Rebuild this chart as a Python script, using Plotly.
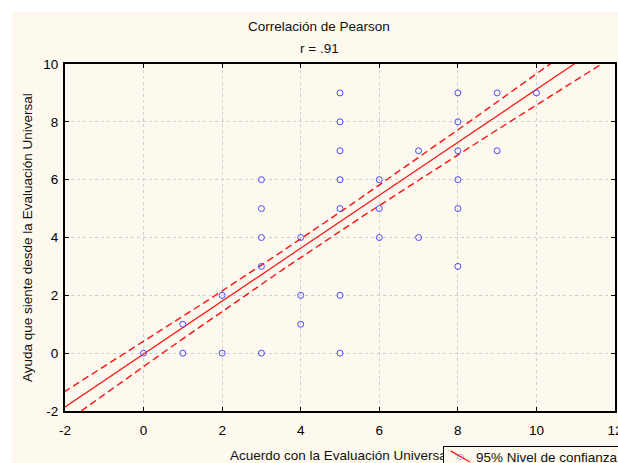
import numpy as np
import plotly.graph_objects as go

# Data points
x_vals = [0, 1, 1, 2, 2, 3, 3, 3, 3, 3, 4, 4, 4, 5, 5, 5, 5, 5, 5, 5,
          6, 6, 6, 7, 7, 8, 8, 8, 8, 8, 8, 9, 9, 10]
y_vals = [0, 1, 0, 2, 0, 6, 5, 4, 3, 0, 4, 2, 1, 9, 8, 7, 6, 5, 2, 0,
          6, 5, 4, 7, 4, 9, 8, 7, 6, 5, 3, 9, 7, 9]

# Regression line and 95% band parameters
fit_slope = 0.915
fit_intercept = -0.03
band_center = 4.0
band_min_halfwidth = 0.32
band_spread = 20.0

x_ticks = [-2, 0, 2, 4, 6, 8, 10, 12]
y_ticks = [-2, 0, 2, 4, 6, 8, 10]
x_tick_text = ["-2", "0", "2", "4", "6", "8", "10", "12"]
y_tick_text = ["-2", "0", "2", "4", "6", "8", "10"]

title_1 = "Correlación de Pearson"
title_2 = "r = .91"
x_title = "Acuerdo con la Evaluación Universal"
y_title = "Ayuda que siente desde la Evaluación Universal"
legend_label = "95% Nivel de confianza"

CREAM = "#FDF9EE"
FONT = "Liberation Sans, Arial, sans-serif"
RED = "#FF1010"
BLUE = "#4A4AFF"
FS = 13.5

# layout geometry (pixels)
W, H = 618, 463
ML, MR, MT, MB = 65, 3, 64, 52
PW, PH = W - ML - MR, H - MT - MB


def px_x(px):
    return (px - ML) / PW


def px_y(py):
    return (H - MB - py) / PH


xs = np.linspace(-2.5, 12.5, 301)
fit = fit_intercept + fit_slope * xs
hw = band_min_halfwidth * np.sqrt(1 + (xs - band_center) ** 2 / band_spread)

fig = go.Figure()
fig.add_trace(go.Scatter(x=xs, y=fit + hw, mode="lines", showlegend=False,
                         line=dict(color=RED, width=1.4, dash="7px,4px"),
                         hoverinfo="skip"))
fig.add_trace(go.Scatter(x=xs, y=fit - hw, mode="lines", showlegend=False,
                         line=dict(color=RED, width=1.4, dash="7px,4px"),
                         hoverinfo="skip"))
fig.add_trace(go.Scatter(x=xs, y=fit, mode="lines", showlegend=False,
                         line=dict(color=RED, width=1.2),
                         hoverinfo="skip"))
fig.add_trace(go.Scatter(x=x_vals, y=y_vals, mode="markers", showlegend=False,
                         name=legend_label,
                         marker=dict(symbol="circle-open", size=6,
                                     color=BLUE, line=dict(width=1))))

axis_common = dict(
    showgrid=True, gridcolor="#CFCFCF", griddash="dot", gridwidth=1,
    zeroline=False, showline=True, linecolor="#000000", linewidth=2,
    mirror="ticks", ticks="inside", ticklen=4, tickcolor="#000000",
    tickfont=dict(family=FONT, size=FS, color="#000000"),
    ticklabeloverflow="allow", automargin=False,
)

txt_font = dict(family=FONT, size=FS, color="#111111")

annotations = [
    dict(text=title_1, xref="paper", yref="paper", x=px_x(319), y=px_y(27),
         xanchor="center", yanchor="middle", showarrow=False, font=txt_font),
    dict(text=title_2, xref="paper", yref="paper", x=px_x(319), y=px_y(48),
         xanchor="center", yanchor="middle", showarrow=False, font=txt_font),
    dict(text=x_title, xref="paper", yref="paper", x=0.5, y=px_y(455),
         xanchor="center", yanchor="middle", showarrow=False, font=txt_font),
    dict(text=y_title, xref="paper", yref="paper", x=px_x(27), y=px_y(238),
         xanchor="center", yanchor="middle", showarrow=False, textangle=-90,
         font=txt_font),
    # legend box (drawn over the end of the x-axis title, as in the source)
    dict(text=" ", xref="paper", yref="paper", x=px_x(443), y=px_y(446),
         xanchor="left", yanchor="top", showarrow=False, width=200, height=24,
         bgcolor=CREAM, bordercolor="#000000", borderwidth=1, borderpad=0,
         font=txt_font),
    dict(text=legend_label, xref="paper", yref="paper", x=px_x(474), y=px_y(457),
         xanchor="left", yanchor="middle", showarrow=False, font=txt_font),
    # legend glyph: red line with blue open circle
    dict(text="", xref="paper", yref="paper", x=px_x(470), y=px_y(463),
         ax=-21, ay=-13, showarrow=True, arrowhead=0, arrowwidth=1.2,
         arrowcolor=RED, standoff=0, startstandoff=0),
    dict(text="○", xref="paper", yref="paper", x=px_x(460), y=px_y(456.5),
         xanchor="center", yanchor="middle", showarrow=False,
         font=dict(family="DejaVu Sans", size=8, color=BLUE)),
]

fig.update_layout(
    width=W, height=H,
    margin=dict(l=ML, r=MR, t=MT, b=MB, autoexpand=False),
    paper_bgcolor="white", plot_bgcolor="white",
    font=txt_font,
    xaxis=dict(range=[-2, 12], tickvals=x_ticks, ticktext=x_tick_text,
               ticklabelstandoff=6, **axis_common),
    yaxis=dict(range=[-2, 10], tickvals=y_ticks, ticktext=y_tick_text,
               ticklabelstandoff=2, **axis_common),
    showlegend=False,
    shapes=[dict(type="rect", xref="paper", yref="paper",
                 x0=px_x(12), x1=px_x(640), y0=px_y(480), y1=px_y(12),
                 fillcolor=CREAM, line=dict(width=0), layer="below")],
    annotations=annotations,
)

fig.write_html(
    "out.html",
    config={"displayModeBar": False},
    post_script="document.body.style.margin='0';document.body.style.padding='0';",
)
